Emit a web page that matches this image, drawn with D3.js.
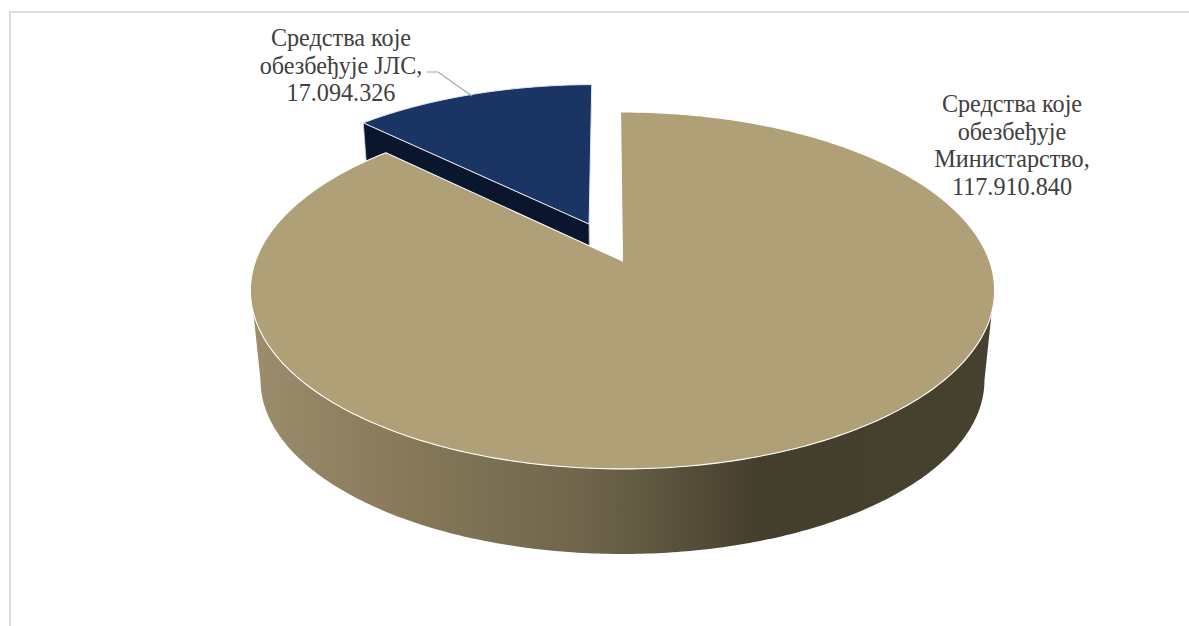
<!DOCTYPE html>
<html><head><meta charset="utf-8">
<script src="https://cdn.jsdelivr.net/npm/d3@7"></script>
<style>html,body{margin:0;padding:0;background:#fff;overflow:hidden}svg{display:block}</style>
</head><body><svg id="c" width="1189" height="626"></svg>
<script>
const categories = ["Средства које обезбеђује Министарство", "Средства које обезбеђује ЈЛС"];
const values = [117910840, 17094326];
const valueLabels = ["117.910.840", "17.094.326"];
const sliceColors = ["#AFA078", "#1A3564"];
const sideColors = ["#8a7c5c", "#0A162E"];
const wallStops = [[0,"#9C8D6C"],[0.172,"#8A7C5C"],[0.45,"#6F654B"],[0.683,"#443E2D"],[1,"#47412F"]];

const svg = d3.select("#c");
const rad = Math.PI/180;
// perspective projection of the pie plane
const K = 0.165;
const upper = {x0:622.5, y0:261, a:367, b:173.6};
const lower = {x0:622.5, y0:351.6, a:357, b:169};
const project = (p,u,v) => { const w = 1 - K*v; return [p.x0 + p.a*u/w, p.y0 + p.b*v/w]; };
const at = (p,ang,r=1,du=0,dv=0) => project(p, r*Math.sin(ang)+du, -r*Math.cos(ang)+dv);
const samples = (a0,a1,n=240) => d3.range(n+1).map(i => a0+(a1-a0)*i/n);

const arcs = d3.pie().sort(null).startAngle(-0.36*rad).endAngle(2*Math.PI-0.36*rad)(values);
const line = d3.line();

const defs = svg.append("defs");
const grad = defs.append("linearGradient").attr("id","wall").attr("gradientUnits","userSpaceOnUse")
  .attr("x1",252).attr("x2",995).attr("y1",0).attr("y2",0);
wallStops.forEach(s => grad.append("stop").attr("offset",s[0]).attr("stop-color",s[1]));

// frame
const frame = d3.path();
frame.moveTo(10,626); frame.lineTo(10,12); frame.lineTo(1189,12);
svg.append("path").attr("d",frame.toString()).attr("fill","none").attr("stroke","#DDDDDD").attr("stroke-width",2);

// exploded slice
const blue = arcs[1], EXPL = 0.24;
const mid = (blue.startAngle+blue.endAngle)/2;
const du = EXPL*Math.sin(mid), dv = -EXPL*Math.cos(mid);
const apexT = at(upper,0,0,du,dv), apexB = at(lower,0,0,du,dv);
const leftT = at(upper,blue.startAngle,1,du,dv), leftB = at(lower,blue.startAngle,1,du,dv);
svg.append("path").attr("d",line([leftT,apexT,apexB,leftB])+"Z").attr("fill",sideColors[1]).attr("stroke","#C9CEDA").attr("stroke-width",0.8);
const blueOutline = [apexT, ...samples(blue.startAngle,blue.endAngle,60).map(a=>at(upper,a,1,du,dv))];
svg.append("path").attr("d",line(blueOutline)+"Z").attr("fill",sliceColors[1]).attr("stroke","#E4E8F0").attr("stroke-width",1);

// main slice side wall
const main = arcs[0];
const wallTop = samples(106.6*rad,253.4*rad).map(a=>at(upper,a));
const wallBot = samples(99.5*rad,260.5*rad).map(a=>at(lower,a)).reverse();
svg.append("path").attr("d",line([...wallTop,...wallBot])+"Z").attr("fill","url(#wall)");

// main slice top
const mainOutline = [at(upper,0,0), ...samples(main.startAngle,main.endAngle,360).map(a=>at(upper,a))];
svg.append("path").attr("d",line(mainOutline)+"Z").attr("fill",sliceColors[0]).attr("stroke","#fff").attr("stroke-width",1.1).attr("stroke-linejoin","round");

// labels
const font = "'Liberation Serif','Times New Roman',serif";
const labels = [
  {lines:["Средства које","обезбеђује","Министарство,",valueLabels[0]], cx:1012, y:112},
  {lines:["Средства које","обезбеђује ЈЛС,",valueLabels[1]], cx:341, y:46}
];
labels.forEach(l => {
  const t = svg.append("text").attr("font-family",font).attr("font-size",24.2).attr("fill","#404040").attr("text-anchor","middle");
  l.lines.forEach((s,i)=>t.append("tspan").attr("x",l.cx).attr("y",l.y+i*27.6).text(s));
});
svg.append("path").attr("d",line([[427,72],[438,72],[472,96]])).attr("fill","none").attr("stroke","#A6A6A6").attr("stroke-width",1.2);
</script></body></html>
